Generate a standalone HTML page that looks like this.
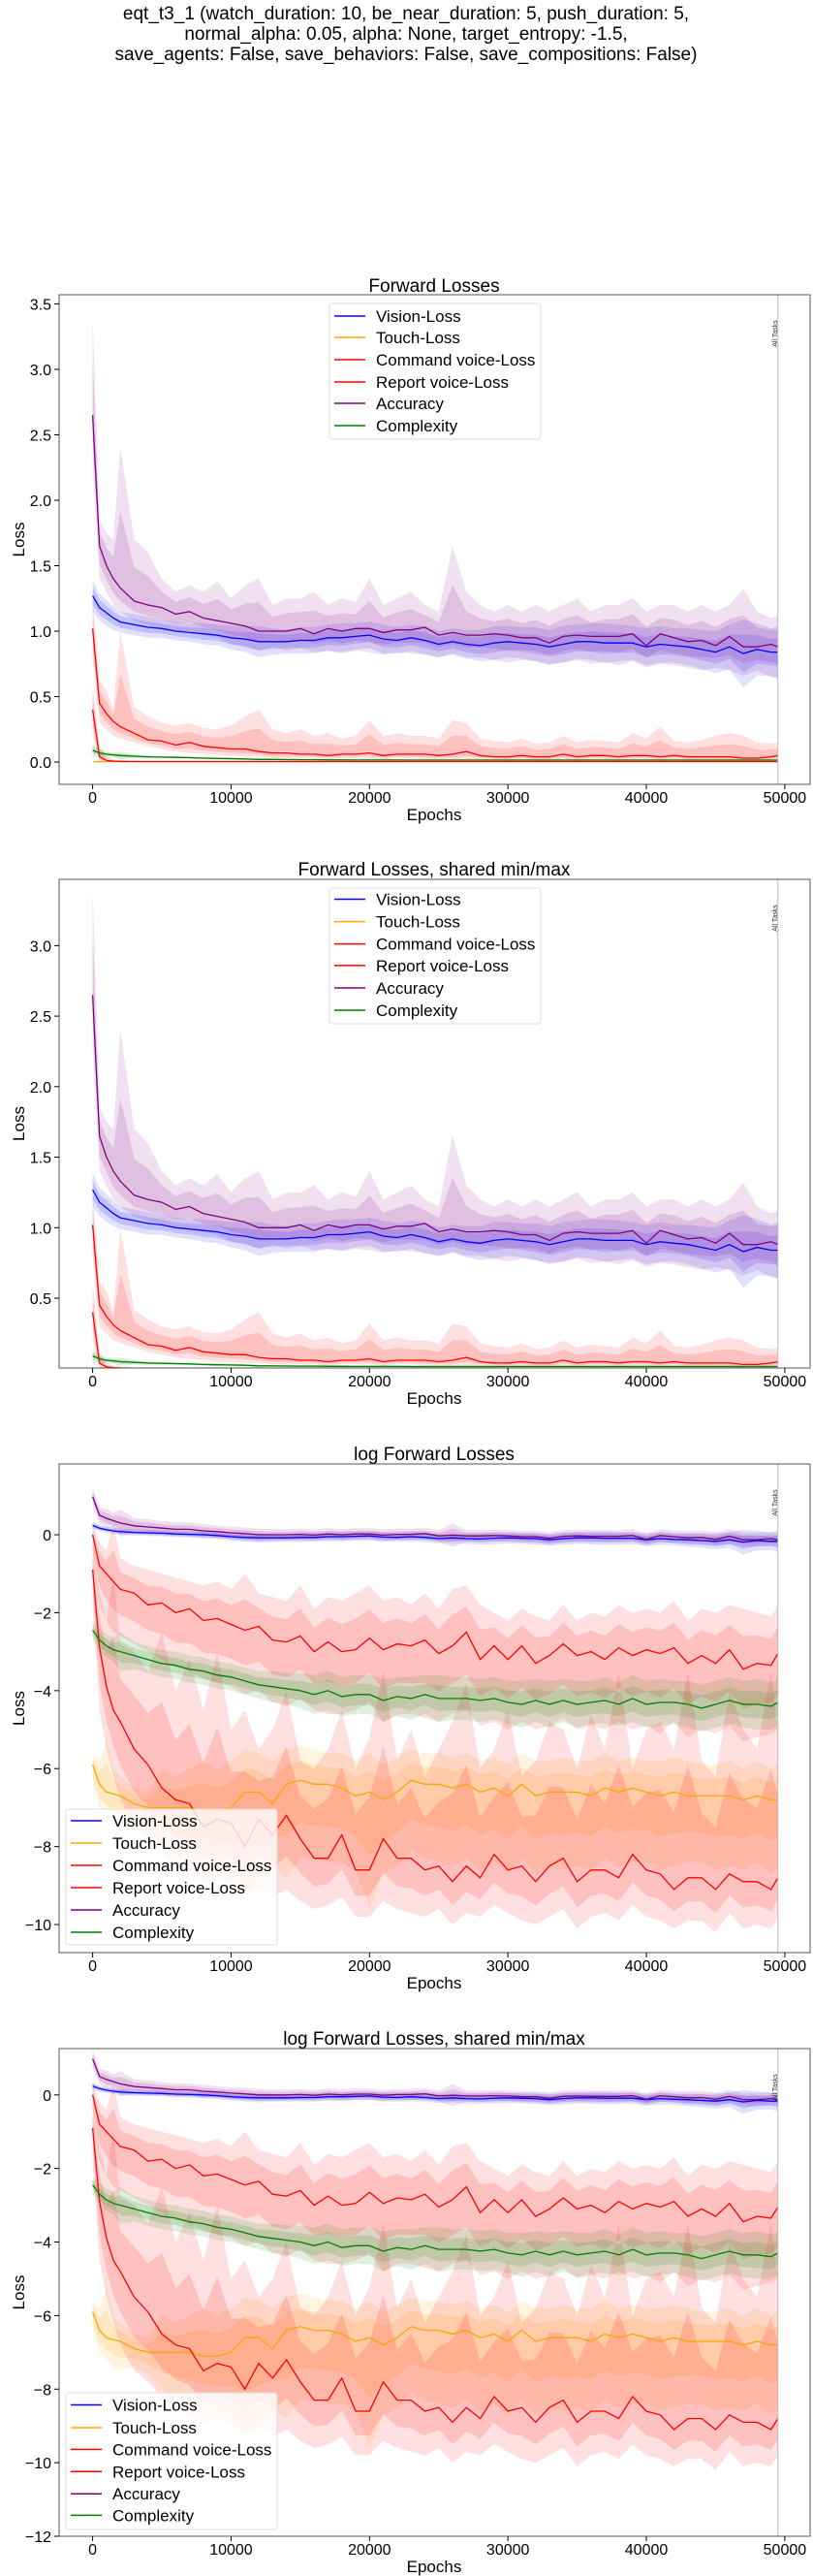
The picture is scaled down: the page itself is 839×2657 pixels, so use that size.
<!DOCTYPE html>
<html><head><meta charset="utf-8"><style>
html,body{margin:0;padding:0;background:#fff}
svg{display:block;font-family:"Liberation Sans",sans-serif}
</style></head><body>
<svg id="fig" width="839" height="2657" viewBox="0 0 839 2657" xmlns="http://www.w3.org/2000/svg">
<g font-size="19" text-anchor="middle" fill="#000">
<text x="419" y="20">eqt_t3_1 (watch_duration: 10, be_near_duration: 5, push_duration: 5,</text>
<text x="419" y="41">normal_alpha: 0.05, alpha: None, target_entropy: -1.5,</text>
<text x="419" y="62">save_agents: False, save_behaviors: False, save_compositions: False)</text>
</g>
</svg>
<script>
const epochs=[0,500,1000,1500,2000,
3000,4000,5000,6000,7000,8000,9000,10000,11000,12000,
13000,14000,15000,16000,17000,18000,19000,20000,21000,22000,
23000,24000,25000,26000,27000,28000,29000,30000,31000,32000,
33000,34000,35000,36000,37000,38000,39000,40000,41000,42000,
43000,44000,45000,46000,47000,48000,49000,49500];
const seriesNames=["Vision-Loss","Touch-Loss","Command voice-Loss","Report voice-Loss","Accuracy","Complexity"];
const xTicks=[0,10000,20000,30000,40000,50000];
const yTicksLin=[0,0.5,1.0,1.5,2.0,2.5,3.0,3.5];
const yTicksLog=[-12,-10,-8,-6,-4,-2,0];

/* ---- linear values ---- */
const visionMean=[1.27,1.18,1.14,1.1,1.07,
1.05,1.03,1.02,1.0,0.99,0.98,0.97,0.95,0.94,0.92,
0.92,0.92,0.93,0.93,0.95,0.95,0.96,0.97,0.94,0.93,
0.95,0.93,0.9,0.92,0.9,0.89,0.91,0.92,0.91,0.9,
0.88,0.9,0.92,0.92,0.91,0.91,0.91,0.88,0.9,0.89,
0.88,0.86,0.84,0.88,0.83,0.86,0.84,0.84];
const visionSpread=[0.12,0.1,0.1,0.09,0.08,
0.08,0.08,0.07,0.07,0.07,0.08,0.08,0.09,0.1,0.12,
0.1,0.09,0.1,0.1,0.1,0.11,0.1,0.1,0.11,0.1,
0.1,0.11,0.1,0.1,0.11,0.12,0.13,0.12,0.12,0.13,
0.13,0.14,0.13,0.14,0.15,0.14,0.13,0.14,0.14,0.13,
0.14,0.15,0.16,0.17,0.26,0.2,0.18,0.2];
const touchMean=[0.003,0.003,0.003,0.003,0.003,
0.003,0.003,0.003,0.003,0.003,0.003,0.003,0.003,0.003,0.003,
0.003,0.003,0.003,0.003,0.003,0.003,0.003,0.003,0.003,0.003,
0.003,0.003,0.003,0.003,0.003,0.003,0.003,0.003,0.003,0.003,
0.003,0.003,0.003,0.003,0.003,0.003,0.003,0.003,0.003,0.003,
0.003,0.003,0.003,0.003,0.003,0.003,0.003,0.003];
const commandMean=[1.02,0.45,0.37,0.31,0.27,
0.22,0.17,0.16,0.13,0.15,0.12,0.11,0.1,0.1,0.08,
0.07,0.07,0.06,0.06,0.05,0.06,0.06,0.07,0.05,0.06,
0.06,0.06,0.05,0.06,0.08,0.05,0.04,0.04,0.05,0.04,
0.04,0.06,0.04,0.05,0.05,0.04,0.05,0.05,0.04,0.05,
0.04,0.04,0.04,0.04,0.03,0.03,0.04,0.05];
const commandHi=[1.25,0.62,0.55,0.4,1.0,
0.42,0.35,0.3,0.28,0.3,0.26,0.25,0.28,0.35,0.4,
0.25,0.22,0.25,0.2,0.22,0.18,0.2,0.32,0.2,0.22,
0.2,0.2,0.18,0.32,0.3,0.18,0.16,0.15,0.18,0.14,
0.15,0.2,0.15,0.17,0.16,0.15,0.22,0.18,0.27,0.16,
0.15,0.17,0.2,0.22,0.2,0.15,0.14,0.15];
const commandLo=[0.8,0.3,0.25,0.2,0.18,
0.15,0.12,0.1,0.08,0.07,0.06,0.05,0.05,0.04,0.04,
0.03,0.03,0.03,0.03,0.02,0.03,0.03,0.03,0.02,0.03,
0.03,0.02,0.02,0.02,0.02,0.02,0.02,0.01,0.02,0.01,
0.01,0.02,0.01,0.02,0.02,0.01,0.02,0.02,0.01,0.02,
0.01,0.01,0.01,0.01,0.01,0.01,0.01,0.02];
const reportMean=[0.4,0.04,0.012,0.007,0.005,
0.004,0.004,0.004,0.004,0.004,0.004,0.004,0.004,0.004,0.004,
0.004,0.004,0.004,0.004,0.004,0.004,0.004,0.004,0.004,0.004,
0.004,0.004,0.004,0.004,0.004,0.004,0.004,0.004,0.004,0.004,
0.004,0.004,0.004,0.004,0.004,0.004,0.004,0.004,0.004,0.004,
0.004,0.004,0.004,0.004,0.004,0.004,0.004,0.004];
const reportHi=[0.6,0.12,0.04,0.02,0.015,
0.01,0.01,0.01,0.01,0.01,0.01,0.01,0.01,0.01,0.01,
0.01,0.01,0.01,0.01,0.01,0.01,0.01,0.01,0.01,0.01,
0.01,0.01,0.01,0.01,0.01,0.01,0.01,0.01,0.01,0.01,
0.01,0.01,0.01,0.01,0.01,0.01,0.01,0.01,0.01,0.01,
0.01,0.01,0.01,0.01,0.01,0.01,0.01,0.01];
const reportLo=[0.2,0.01,0.0,0.0,0.0,
0,0,0,0,0,0,0,0,0,0,
0,0,0,0,0,0,0,0,0,0,
0,0,0,0,0,0,0,0,0,0,
0,0,0,0,0,0,0,0,0,0,
0,0,0,0,0,0,0,0];
const accMean=[2.65,1.65,1.5,1.4,1.33,
1.23,1.2,1.18,1.13,1.15,1.1,1.08,1.06,1.04,1.0,
1.0,1.0,1.02,0.98,1.02,1.0,1.02,1.02,0.99,1.01,
1.01,1.03,0.97,0.99,0.97,0.97,0.98,0.97,0.95,0.95,
0.91,0.96,0.97,0.96,0.96,0.96,0.98,0.89,0.98,0.95,
0.92,0.93,0.89,0.96,0.88,0.88,0.9,0.88];
const accHi=[3.4,1.85,1.75,1.7,2.4,
1.7,1.6,1.4,1.3,1.35,1.3,1.38,1.25,1.35,1.4,
1.2,1.25,1.25,1.3,1.2,1.25,1.22,1.4,1.2,1.25,
1.3,1.2,1.15,1.65,1.3,1.2,1.15,1.2,1.15,1.2,
1.15,1.2,1.25,1.15,1.2,1.2,1.25,1.15,1.2,1.2,
1.15,1.2,1.15,1.2,1.32,1.15,1.1,1.12];
const accLo=[2.3,1.4,1.3,1.2,1.15,
1.08,1.05,1.02,1.0,1.0,0.97,0.95,0.9,0.88,0.85,
0.88,0.85,0.87,0.84,0.85,0.83,0.85,0.84,0.82,0.84,
0.83,0.82,0.8,0.83,0.8,0.8,0.78,0.76,0.78,0.77,
0.74,0.76,0.78,0.75,0.76,0.74,0.77,0.72,0.75,0.74,
0.72,0.7,0.72,0.7,0.66,0.7,0.65,0.64];
const complexMean=[0.09,0.07,0.06,0.055,0.05,
0.045,0.04,0.038,0.036,0.034,0.03,0.028,0.026,0.024,0.02,
0.02,0.019,0.018,0.018,0.017,0.017,0.016,0.016,0.016,0.016,
0.015,0.015,0.015,0.015,0.015,0.015,0.015,0.015,0.015,0.015,
0.015,0.015,0.015,0.015,0.015,0.015,0.015,0.015,0.015,0.015,
0.015,0.015,0.015,0.015,0.015,0.015,0.015,0.015];
const complexSpread=[0.05,0.03,0.02,0.02,0.03,
0.015,0.012,0.01,0.01,0.01,0.01,0.01,0.01,0.01,0.01,
0.008,0.008,0.008,0.008,0.008,0.008,0.008,0.008,0.008,0.008,
0.008,0.008,0.008,0.008,0.008,0.008,0.008,0.008,0.008,0.008,
0.008,0.008,0.008,0.008,0.008,0.008,0.008,0.008,0.008,0.008,
0.008,0.008,0.008,0.008,0.008,0.008,0.008,0.008];

/* ---- log values ---- */
const visionLog=[0.24,0.17,0.13,0.1,0.08,
0.06,0.05,0.04,0.02,0.01,0.0,-0.02,-0.05,-0.07,-0.08,
-0.08,-0.08,-0.07,-0.07,-0.05,-0.05,-0.04,-0.03,-0.06,-0.07,
-0.05,-0.07,-0.1,-0.08,-0.1,-0.11,-0.09,-0.08,-0.09,-0.1,
-0.13,-0.1,-0.08,-0.08,-0.09,-0.09,-0.09,-0.13,-0.1,-0.12,
-0.13,-0.15,-0.17,-0.13,-0.19,-0.15,-0.17,-0.17];
const visionLogSpread=[0.1,0.08,0.08,0.08,0.08,
0.08,0.08,0.08,0.08,0.08,0.09,0.09,0.1,0.11,0.12,
0.11,0.1,0.11,0.11,0.11,0.12,0.11,0.11,0.12,0.11,
0.12,0.12,0.12,0.12,0.13,0.14,0.15,0.14,0.14,0.15,
0.15,0.16,0.15,0.16,0.17,0.16,0.15,0.16,0.16,0.15,
0.17,0.18,0.2,0.2,0.32,0.25,0.22,0.28];
const touchLog=[-5.9,-6.4,-6.6,-6.65,-6.7,
-6.9,-7.0,-7.0,-7.0,-7.0,-7.1,-7.1,-7.0,-6.6,-6.6,
-6.9,-6.4,-6.3,-6.4,-6.4,-6.5,-6.7,-6.6,-6.8,-6.6,
-6.3,-6.4,-6.4,-6.5,-6.4,-6.6,-6.5,-6.7,-6.4,-6.7,
-6.6,-6.6,-6.6,-6.7,-6.5,-6.6,-6.5,-6.6,-6.7,-6.6,
-6.7,-6.7,-6.7,-6.7,-6.8,-6.7,-6.8,-6.8];
const touchLogHi=[-5.6,-5.8,-5.2,-6.0,-6.2,
-6.5,-6.6,-6.0,-6.2,-6.0,-5.8,-6.0,-5.8,-5.5,-5.6,
-5.8,-5.5,-5.4,-5.5,-5.6,-5.6,-5.8,-5.6,-5.9,-5.7,
-5.5,-5.6,-5.6,-5.7,-5.6,-5.8,-5.7,-5.9,-5.6,-5.8,
-5.8,-5.7,-5.8,-5.8,-5.6,-5.8,-5.7,-5.8,-5.8,-5.7,
-5.8,-5.9,-5.9,-5.8,-6.0,-5.8,-6.0,-5.9];
const touchLogLo=[-6.4,-7.0,-7.2,-7.4,-7.5,
-7.4,-7.6,-8.0,-8.2,-8.4,-8.5,-8.6,-8.7,-9.2,-9.0,
-8.5,-8.8,-8.3,-8.3,-8.4,-8.4,-8.6,-9.6,-8.7,-8.5,
-8.1,-8.3,-8.4,-8.5,-8.3,-8.6,-8.4,-8.7,-8.3,-8.7,
-8.5,-8.6,-8.5,-8.6,-8.3,-8.5,-8.4,-8.4,-8.6,-8.5,
-8.4,-8.4,-8.6,-8.5,-8.6,-8.4,-8.7,-8.5];
const commandLog=[0,-0.8,-1.0,-1.2,-1.4,
-1.5,-1.8,-1.75,-2.0,-1.9,-2.2,-2.15,-2.3,-2.45,-2.35,
-2.7,-2.75,-2.6,-3.0,-2.75,-3.0,-2.95,-2.65,-2.95,-2.8,
-2.85,-2.7,-3.05,-2.85,-2.5,-3.2,-2.85,-3.2,-2.85,-3.3,
-3.1,-2.8,-3.1,-3.0,-3.2,-2.9,-3.1,-2.95,-3.05,-2.9,
-3.3,-3.1,-3.3,-2.95,-3.45,-3.3,-3.35,-3.05];
const commandLogHi=[0.3,-0.2,-0.4,0.3,-0.6,
-0.8,-0.9,-1.0,-1.1,-1.2,-1.3,-1.2,-1.4,-1.0,-1.5,
-1.6,-1.7,-1.3,-1.9,-1.6,-1.7,-1.5,-1.3,-1.7,-1.6,
-1.8,-1.5,-1.9,-1.4,-1.3,-1.8,-2.0,-2.2,-1.9,-2.1,
-2.2,-1.8,-2.2,-2.0,-2.1,-1.8,-2.0,-1.9,-2.0,-1.7,
-2.2,-1.9,-2.0,-1.8,-1.9,-2.0,-2.1,-1.8];
const commandLogLo=[-0.8,-1.8,-2.2,-2.5,-2.6,
-2.8,-3.0,-3.2,-3.4,-3.5,-3.7,-3.8,-3.9,-4.1,-4.0,
-4.3,-4.4,-4.2,-4.5,-4.6,-4.6,-4.5,-4.3,-4.8,-4.6,
-4.6,-4.7,-4.8,-4.6,-4.5,-4.9,-4.8,-5.0,-4.8,-5.0,
-4.9,-4.7,-5.0,-4.9,-5.0,-4.8,-5.0,-4.9,-5.1,-4.8,
-5.2,-5.0,-5.1,-4.9,-5.3,-5.2,-5.1,-5.0];
const reportLog=[-0.9,-2.9,-3.9,-4.5,-4.8,
-5.5,-5.9,-6.5,-6.8,-6.9,-7.5,-7.3,-7.4,-8.0,-7.3,
-7.7,-7.2,-7.8,-8.3,-8.3,-7.7,-8.6,-8.6,-7.8,-8.3,
-8.3,-8.6,-8.5,-8.9,-8.5,-8.8,-8.2,-8.6,-8.5,-8.9,
-8.5,-8.3,-8.9,-8.6,-8.6,-8.8,-8.2,-8.6,-8.7,-9.1,
-8.8,-8.8,-9.1,-8.7,-8.9,-8.9,-9.1,-8.8];
const reportLogHi=[-0.5,-1.5,-2.2,-1.0,-2.8,
-3.0,-3.5,-2.5,-4.0,-3.2,-4.5,-3.0,-5.0,-4.5,-5.5,
-5.0,-4.0,-5.8,-6.0,-5.5,-4.5,-6.0,-5.2,-3.5,-5.8,
-5.0,-6.2,-5.5,-4.8,-3.8,-6.0,-5.5,-4.5,-6.2,-5.8,
-4.8,-5.0,-6.0,-4.6,-5.5,-3.5,-6.0,-5.0,-4.8,-5.5,
-3.5,-5.8,-6.2,-4.0,-5.0,-5.5,-3.5,-5.0];
const reportLogLo=[-1.8,-4.5,-5.5,-6.2,-6.8,
-7.5,-7.8,-8.2,-8.5,-8.7,-9.0,-8.8,-9.0,-9.2,-9.0,
-9.3,-9.1,-9.4,-9.6,-9.5,-9.3,-9.8,-9.8,-9.4,-9.6,
-9.7,-9.8,-9.6,-10.0,-9.7,-9.8,-9.5,-9.7,-9.9,-10.0,
-9.8,-9.6,-10.1,-9.8,-9.7,-9.9,-9.5,-9.8,-9.9,-10.1,
-9.9,-9.9,-10.2,-9.7,-10.1,-10.0,-10.1,-9.8];
const accLog=[0.98,0.5,0.42,0.36,0.3,
0.23,0.2,0.17,0.14,0.14,0.1,0.08,0.05,0.03,0.0,
0.0,0.0,0.01,-0.01,0.02,0.0,0.02,0.02,-0.01,0.01,
0.01,0.03,-0.03,-0.01,-0.03,-0.03,-0.02,-0.03,-0.05,-0.05,
-0.09,-0.04,-0.03,-0.04,-0.04,-0.04,-0.02,-0.12,-0.02,-0.05,
-0.08,-0.07,-0.12,-0.04,-0.13,-0.13,-0.1,-0.13];
const accLogSpread=[0.25,0.2,0.25,0.2,0.35,
0.2,0.2,0.18,0.18,0.18,0.18,0.16,0.16,0.16,0.16,
0.15,0.15,0.15,0.15,0.15,0.15,0.15,0.15,0.15,0.15,
0.15,0.15,0.15,0.3,0.15,0.15,0.15,0.15,0.15,0.15,
0.16,0.16,0.16,0.16,0.16,0.16,0.16,0.16,0.16,0.16,
0.18,0.18,0.18,0.18,0.18,0.18,0.18,0.18];
const complexLog=[-2.45,-2.7,-2.85,-2.95,-3.0,
-3.1,-3.2,-3.3,-3.35,-3.45,-3.5,-3.6,-3.65,-3.75,-3.85,
-3.9,-3.95,-4.0,-4.1,-4.0,-4.15,-4.1,-4.1,-4.25,-4.15,
-4.2,-4.1,-4.2,-4.2,-4.2,-4.25,-4.2,-4.3,-4.35,-4.25,
-4.35,-4.25,-4.35,-4.3,-4.25,-4.35,-4.2,-4.35,-4.3,-4.3,
-4.35,-4.45,-4.35,-4.25,-4.35,-4.35,-4.4,-4.3];
const complexLogSpread=[0.25,0.3,0.3,0.3,0.5,
0.35,0.35,0.35,0.35,0.35,0.35,0.35,0.35,0.35,0.35,
0.4,0.4,0.45,0.5,0.5,0.5,0.5,0.5,0.55,0.5,
0.55,0.5,0.6,0.55,0.55,0.55,0.55,0.55,0.6,0.55,
0.6,0.55,0.6,0.55,0.6,0.55,0.6,0.6,0.6,0.55,
0.6,0.6,0.6,0.6,0.6,0.65,0.6,0.6];

const NS="http://www.w3.org/2000/svg";
const fig=document.getElementById('fig');
function mk(tag,parent,attrs){const e=document.createElementNS(NS,tag);for(const k in attrs)e.setAttribute(k,attrs[k]);parent.appendChild(e);return e;}
const colors=["#0000ff","#ffa500","#ff0000","#ff0000","#800080","#008000"];
const AXL=61,AXR=836,XMIN=-2422,XMAX=51827;
function xs(v){return AXL+(v-XMIN)/(XMAX-XMIN)*(AXR-AXL);}

function linSeries(){
  const sp=(m,s)=>({lo:m.map((v,i)=>v-s[i]),hi:m.map((v,i)=>v+s[i])});
  const v=sp(visionMean,visionSpread),c=sp(complexMean,complexSpread);
  return [
    {mean:visionMean,lo:v.lo,hi:v.hi},
    {mean:touchMean,lo:touchMean,hi:touchMean},
    {mean:commandMean,lo:commandLo,hi:commandHi},
    {mean:reportMean,lo:reportLo,hi:reportHi},
    {mean:accMean,lo:accLo,hi:accHi},
    {mean:complexMean,lo:c.lo,hi:c.hi}];
}
function logSeries(){
  const sp=(m,s)=>({lo:m.map((v,i)=>v-s[i]),hi:m.map((v,i)=>v+s[i])});
  const v=sp(visionLog,visionLogSpread),a=sp(accLog,accLogSpread),c=sp(complexLog,complexLogSpread);
  return [
    {mean:visionLog,lo:v.lo,hi:v.hi},
    {mean:touchLog,lo:touchLogLo,hi:touchLogHi},
    {mean:commandLog,lo:commandLogLo,hi:commandLogHi},
    {mean:reportLog,lo:reportLogLo,hi:reportLogHi},
    {mean:accLog,lo:a.lo,hi:a.hi},
    {mean:complexLog,lo:c.lo,hi:c.hi}];
}

function drawPlot(p,idx){
  const g=mk('g',fig,{});
  
  
  const ys=v=>p.bottom-(v-p.ymin)/(p.ymax-p.ymin)*(p.bottom-p.top);
  const cid='clip'+idx;
  const cp=mk('clipPath',g,{id:cid});mk('rect',cp,{x:AXL,y:p.top,width:AXR-AXL,height:p.bottom-p.top});
  const t=mk('text',g,{x:448,y:p.titleY,'font-size':19,'text-anchor':'middle'});t.textContent=p.title;
  
  
  const data=p.series;
  const marks=mk('g',g,{'clip-path':'url(#'+cid+')'});
  data.forEach((s,k)=>{
    const col=colors[k];
    const band=(lo,hi,op,name)=>{
      let d='M'+epochs.map((e,i)=>xs(e).toFixed(1)+','+ys(hi[i]).toFixed(1)).join('L');
      d+='L'+epochs.map((e,i)=>[xs(e).toFixed(1)+','+ys(lo[i]).toFixed(1)]).reverse().join('L')+'Z';
      const b=mk('path',marks,{d:d,fill:col,'fill-opacity':op,stroke:'none'});
      
      
    };
    band(s.lo,s.hi,0.12,'band-outer-'+k);
    const ilo=s.mean.map((m,i)=>m-(m-s.lo[i])*0.55), ihi=s.mean.map((m,i)=>m+(s.hi[i]-m)*0.55);
    band(ilo,ihi,0.14,'band-inner-'+k);
  });
  data.forEach((s,k)=>{
    const d='M'+epochs.map((e,i)=>xs(e).toFixed(1)+','+ys(s.mean[i]).toFixed(1)).join('L');
    const l=mk('path',marks,{d:d,fill:'none',stroke:colors[k],'stroke-width':1.3});
    
    
  });
  const vx=xs(49500);
  const vl=mk('line',g,{x1:vx,x2:vx,y1:p.top,y2:p.bottom,stroke:'#bbb','stroke-width':1});
  
  
  const at=mk('text',g,{x:0,y:0,'font-size':7,'text-anchor':'middle',fill:'#333',transform:'translate('+(vx-1)+','+(p.top+40)+') rotate(-90)'});
  at.textContent='All Tasks';
  
  
  const fr=mk('rect',g,{x:AXL,y:p.top,width:AXR-AXL,height:p.bottom-p.top,fill:'none',stroke:'#555','stroke-width':1});
  
  
  xTicks.forEach(v=>{
    const x=xs(v);
    mk('line',g,{x1:x,x2:x,y1:p.bottom,y2:p.bottom+5,stroke:'#000'});
    const tl=mk('text',g,{x:x,y:p.bottom+19,'font-size':16,'text-anchor':'middle'});tl.textContent=String(v);
    
    
  });
  p.yticks.forEach(v=>{
    if(v<p.ymin-1e-9||v>p.ymax)return;
    const y=ys(v);
    mk('line',g,{x1:AXL-5,x2:AXL,y1:y,y2:y,stroke:'#000'});
    const tl=mk('text',g,{x:AXL-8,y:y+6,'font-size':16,'text-anchor':'end'});tl.textContent=p.fmt(v);
    
    
  });
  const xl=mk('text',g,{x:448,y:p.bottom+37,'font-size':17,'text-anchor':'middle'});xl.textContent='Epochs';
  
  
  const yc=(p.top+p.bottom)/2;
  const yl=mk('text',g,{x:0,y:0,'font-size':17,'text-anchor':'middle',transform:'translate(25,'+yc+') rotate(-90)'});yl.textContent='Loss';
  
  
  const L=p.legend;
  const lg=mk('g',g,{});
  
  
  mk('rect',lg,{x:L.x,y:L.y,width:L.w,height:L.h,rx:3,fill:'#fff','fill-opacity':0.8,stroke:'#ddd'});
  seriesNames.forEach((n,k)=>{
    const ry=L.rows[k];
    const e=mk('g',lg,{});
    
    
    mk('line',e,{x1:L.x+5,x2:L.x+37,y1:ry,y2:ry,stroke:colors[k],'stroke-width':1.5});
    const tx=mk('text',e,{x:L.x+48,y:ry+6,'font-size':17});tx.textContent=n;
  });
}
const f1=v=>v.toFixed(1);
const f0=v=>v===0?'0':'\u2212'+Math.abs(v);
const plots=[
 {slug:'forward-losses',title:'Forward Losses',titleY:301,top:304,bottom:809,ymin:-0.170,ymax:3.57,yticks:yTicksLin,fmt:f1,series:linSeries(),
  legend:{x:340,y:313,w:218,h:140,rows:[326,348,371,394,416,439]}},
 {slug:'forward-losses-shared',title:'Forward Losses, shared min/max',titleY:903,top:907,bottom:1411,ymin:0.005,ymax:3.47,yticks:yTicksLin,fmt:f1,series:linSeries(),
  legend:{x:340,y:916,w:218,h:140,rows:[927.5,950.6,973.6,995.9,1019,1042]}},
 {slug:'log-forward-losses',title:'log Forward Losses',titleY:1506,top:1510,bottom:2014,ymin:-10.72,ymax:1.816,yticks:yTicksLog,fmt:f0,series:logSeries(),
  legend:{x:68,y:1866,w:218,h:140,rows:[1878,1901,1924,1947,1970,1993]}},
 {slug:'log-forward-losses-shared',title:'log Forward Losses, shared min/max',titleY:2109,top:2113,bottom:2616,ymin:-12,ymax:1.26,yticks:yTicksLog,fmt:f0,series:logSeries(),
  legend:{x:68,y:2468,w:218,h:141,rows:[2480.5,2504,2526.4,2549.3,2572.2,2594.4]}}
];
plots.forEach((p,i)=>drawPlot(p,i));
</script>
</body></html>
